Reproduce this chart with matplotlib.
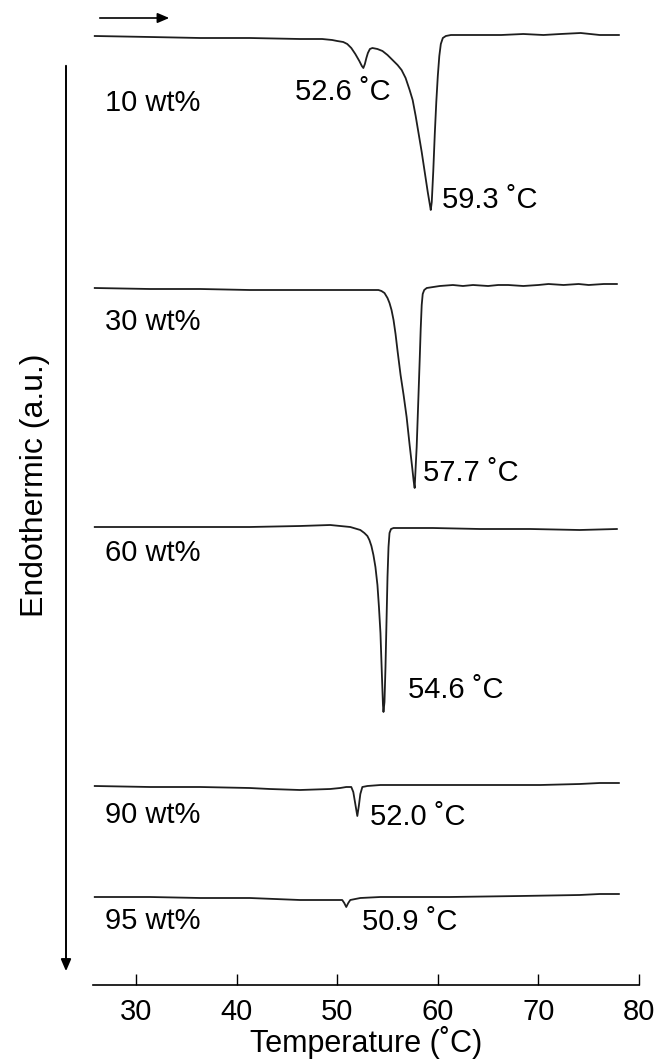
import numpy as np
import matplotlib.pyplot as plt
from matplotlib.patches import FancyArrowPatch

plt.rcParams['font.family'] = ['Liberation Sans', 'DejaVu Sans']

# DSC heating curves: temperature (deg C) and heat flow (a.u., 0 = baseline, negative = endothermic)
temp_10 = [25.9, 31.4, 36.4, 41.3, 46.3, 48.5, 49.5, 50.0, 50.6, 51.0, 51.4, 51.8, 52.2, 52.45,
           52.6, 52.75, 52.9, 53.05, 53.25, 53.5, 54.0, 54.5, 55.0, 55.5, 56.0, 56.4, 56.8, 57.2,
           57.5, 57.8, 58.1, 58.4, 58.7, 59.0, 59.2, 59.3, 59.4, 59.55, 59.7, 59.85, 60.0, 60.15,
           60.3, 60.5, 60.8, 61.3, 64.0, 66.3, 68.5, 70.5, 72.2, 74.2, 76.1, 78.0]
flow_10 = [0, -1, -2, -2, -3, -3, -4, -5, -6, -8, -12, -18, -25, -30,
           -32, -28, -22, -17, -13, -12, -13, -15, -19, -24, -29, -34, -42, -54,
           -64, -80, -98, -116, -136, -156, -168, -174, -166, -135, -98, -66, -40, -20,
           -8, -2, 0, 1, 1, 1, 2, 1, 2, 3, 1, 1]

temp_30 = [25.9, 31.4, 36.4, 41.3, 46.3, 51.3, 54.1, 54.4, 54.7, 55.0, 55.2, 55.4, 55.6, 55.8,
           56.0, 56.3, 56.6, 56.9, 57.2, 57.45, 57.6, 57.7, 57.8, 57.9, 58.05, 58.2, 58.3, 58.4,
           58.5, 58.65, 58.9, 60.2, 61.5, 62.5, 63.5, 65.0, 66.0, 67.0, 68.5, 70.0, 71.0, 72.5,
           74.0, 75.0, 76.5, 77.8]
flow_30 = [1, 0, 0, -1, -1, -1, -1, -2, -4, -9, -14, -21, -31, -45,
           -62, -86, -106, -128, -156, -178, -192, -199, -178, -158, -115, -71, -40, -16,
           -5, -1, 1, 3, 4, 3, 4, 3, 4, 4, 3, 4, 5, 4,
           5, 4, 5, 5]

temp_60 = [25.9, 31.4, 36.4, 41.3, 46.3, 49.3, 51.3, 52.3, 52.7, 53.0, 53.2, 53.4, 53.6, 53.8,
           54.0, 54.15, 54.3, 54.45, 54.55, 54.6, 54.7, 54.8, 54.9, 55.0, 55.1, 55.2, 55.35, 55.6,
           59.5, 64.2, 69.2, 74.1, 77.8]
flow_60 = [0, 0, 0, 0, 1, 2, 0, -3, -6, -9, -13, -19, -28, -40,
           -58, -80, -106, -150, -178, -185, -175, -140, -95, -50, -20, -6, -2, -1,
           -1, -2, -2, -3, -2]

temp_90 = [25.9, 31.4, 36.4, 41.3, 43.3, 46.3, 49.3, 50.3, 50.9, 51.4, 51.6, 51.8, 52.0, 52.15,
           52.3, 52.5, 53.0, 54.3, 58.2, 64.2, 70.2, 74.1, 76.1, 78.0]
flow_90 = [0, -1, -1, -2, -3, -4, -3, -2, -1, -1, -6, -18, -30, -20,
           -8, -1, 0, 1, 1, 1, 1, 2, 3, 3]

temp_95 = [25.9, 31.4, 36.4, 41.3, 46.3, 49.8, 50.5, 50.7, 50.9, 51.1, 51.3, 52.3, 54.3, 61.2,
           68.2, 74.1, 76.1, 78.0]
flow_95 = [0, 0, -1, -1, -3, -3, -3, -6, -10, -6, -3, -1, 0, 0,
           1, 2, 3, 3]

sample_labels = ['10 wt%', '30 wt%', '60 wt%', '90 wt%', '95 wt%']
peak_labels = ['52.6', '59.3', '57.7', '54.6', '52.0', '50.9']

# vertical stacking of the curves and text placement
offsets = [-36, -289, -527, -786, -897]
sample_label_y = [-103, -322, -553, -815, -921]
peak_label_xy = [(45.8, -92), (60.4, -200), (58.5, -473), (57.0, -690), (53.3, -817), (52.5, -922)]

fig = plt.figure(figsize=(6.65, 10.61), dpi=100)
ax = fig.add_axes([93 / 665, 76 / 1061, (639 - 93) / 665, 985 / 1061])

curves = [(temp_10, flow_10), (temp_30, flow_30), (temp_60, flow_60),
          (temp_90, flow_90), (temp_95, flow_95)]
for (t, f), off, lab, ly in zip(curves, offsets, sample_labels, sample_label_y):
    ax.plot(t, np.array(f) + off, color='#1e1e1e', lw=1.3)
    ax.text(26.9, ly, lab, fontsize=21, va='center', ha='left')

for (px, py), pk in zip(peak_label_xy, peak_labels):
    ax.text(px, py, pk + ' \u02daC', fontsize=21, va='center', ha='left')

ax.set_xlim(30 - 43 / 10.06, 80)
ax.set_ylim(-985, 0)
ax.set_xticks([30, 40, 50, 60, 70, 80])
ax.tick_params(axis='x', direction='in', length=8, width=1, labelsize=21, pad=9)
ax.set_yticks([])
for s in ['top', 'right', 'left']:
    ax.spines[s].set_visible(False)
ax.spines['bottom'].set_linewidth(1.2)
ax.set_xlabel('Temperature (\u02daC)', fontsize=22, labelpad=0)

# heating direction arrow and endothermic arrow
fig.patches.append(FancyArrowPatch(
    (97 / 665, 1 - 18 / 1061), (172 / 665, 1 - 18 / 1061), transform=fig.transFigure,
    arrowstyle='-|>,head_length=7,head_width=3', color='black', lw=1.2))
fig.patches.append(FancyArrowPatch(
    (66 / 665, 1 - 63 / 1061), (66 / 665, 1 - 974 / 1061), transform=fig.transFigure,
    arrowstyle='-|>,head_length=7,head_width=3', color='black', lw=1.4))
fig.text(35 / 665, 1 - 485 / 1061, 'Endothermic (a.u.)', rotation=90, fontsize=23,
         va='center', ha='center')

fig.savefig('out.png', dpi=100)
